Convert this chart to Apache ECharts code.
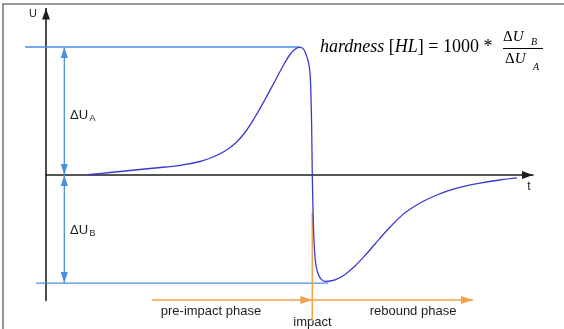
<!DOCTYPE html>
<html><head><meta charset="utf-8">
<script src="https://cdn.jsdelivr.net/npm/echarts@6/dist/echarts.min.js"></script>
<style>html,body{margin:0;padding:0;background:#fff}#c{width:564px;height:329px}</style>
</head><body><div id="c"></div>
<script>
// ---- data (t: time, arbitrary units; U: signal voltage, arbitrary units) ----
const curveT = [0.862, 1.314, 1.725, 2.238, 2.752, 3.162, 3.429, 3.676, 3.881, 4.086, 4.292, 4.497, 4.702, 4.867, 5.010, 5.113, 5.195, 5.257, 5.318, 5.386, 5.421, 5.441, 5.456, 5.468, 5.483, 5.503, 5.534, 5.575, 5.647, 5.749, 5.934, 6.140, 6.345, 6.550, 6.756, 6.961, 7.166, 7.372, 7.680, 7.988, 8.296, 8.604, 8.912, 9.322, 9.671];
const curveU = [0.02, 0.195, 0.352, 0.547, 0.758, 1.055, 1.406, 1.875, 2.461, 3.32, 4.531, 5.898, 7.344, 8.516, 9.414, 9.82, 9.977, 9.94, 9.63, 8.85, 7.97, 6.12, 3.52, 0, -2.73, -5.08, -6.80, -7.58, -8.13, -8.32, -8.20, -7.77, -7.11, -6.29, -5.39, -4.49, -3.67, -2.95, -2.19, -1.62, -1.18, -0.86, -0.63, -0.39, -0.23];

const axisT = [0, 10];          // time axis range
const axisU = [-9.8, 13];       // voltage axis range
const peakLevel = 10.0;         // U at the peak (top reference line)
const troughLevel = -8.44;      // U at the rebound minimum (bottom reference line)
const peakLineT = [-0.431, 5.216];
const troughLineT = [-0.205, 5.791];
const deltaArrowT = 0.376;      // where the ΔU arrows stand
const impactT = 5.468;          // time of impact
const impactLineU = [-2.97, -11.41];
const phaseArrowU = -9.77;
const preImpactStartT = 2.177;
const reboundEndT = 8.768;

// ---- styles ----
const BLUE = '#4a8fe0', ORANGE = '#f5a04c', CURVE = '#3a3ad2', INK = '#1e1e1e';
const arrowPath = 'path://M0,-11M0,0L4,11L-4,11Z';

// segments: [t1,u1,t2,u2,kind(0 blue,1 orange),arrowAtStart,arrowAtEnd]
const segments = [
  [peakLineT[0], peakLevel, peakLineT[1], peakLevel, 0, 0, 0],
  [troughLineT[0], troughLevel, troughLineT[1], troughLevel, 0, 0, 0],
  [deltaArrowT, 0, deltaArrowT, peakLevel, 0, 1, 1],
  [deltaArrowT, 0, deltaArrowT, troughLevel, 0, 1, 1],
  [impactT, impactLineU[0], impactT, impactLineU[1], 1, 0, 0],
  [preImpactStartT, phaseArrowU, impactT, phaseArrowU, 1, 0, 1],
  [impactT, phaseArrowU, reboundEndT, phaseArrowU, 1, 0, 1]
];

const chart = echarts.init(document.getElementById('c'), null, {renderer: 'canvas'});

function renderSeg(params, api) {
  const p1 = api.coord([api.value(0), api.value(1)]);
  const p2 = api.coord([api.value(2), api.value(3)]);
  const kind = api.value(4);
  const color = kind === 0 ? BLUE : ORANGE;
  const L = kind === 0 ? 11 : 12, W = kind === 0 ? 7 : 8;
  const children = [{type: 'line', shape: {x1: p1[0], y1: p1[1], x2: p2[0], y2: p2[1]},
    style: {stroke: color, lineWidth: kind === 0 ? 1.3 : 1.6}}];
  function head(tip, from) {
    const dx = tip[0] - from[0], dy = tip[1] - from[1];
    const len = Math.hypot(dx, dy) || 1;
    const ux = dx / len, uy = dy / len;
    const bx = tip[0] - ux * L, by = tip[1] - uy * L;
    return {type: 'polygon', shape: {points: [[tip[0], tip[1]], [bx - uy * W / 2, by + ux * W / 2], [bx + uy * W / 2, by - ux * W / 2]]},
      style: {fill: color}};
  }
  if (api.value(5)) children.push(head(p1, p2));
  if (api.value(6)) children.push(head(p2, p1));
  return {type: 'group', children};
}

const sans = 'Liberation Sans';
const serif = 'Liberation Serif';

chart.setOption({
  animation: false,
  backgroundColor: '#fff',
  grid: {left: 46, right: 31, top: 8.6, bottom: 28.56, containLabel: false},
  xAxis: {type: 'value', min: axisT[0], max: axisT[1],
    axisLine: {show: true, onZero: true, symbol: ['none', arrowPath], symbolSize: [8, 22], lineStyle: {color: INK, width: 1.6}},
    axisTick: {show: false}, axisLabel: {show: false}, splitLine: {show: false}},
  yAxis: {type: 'value', min: axisU[0], max: axisU[1],
    axisLine: {show: true, onZero: true, symbol: ['none', arrowPath], symbolSize: [8, 22], lineStyle: {color: INK, width: 1.6}},
    axisTick: {show: false}, axisLabel: {show: false}, splitLine: {show: false}},
  series: [
    {type: 'custom', renderItem: renderSeg, data: segments, clip: false, silent: true, z: 2,
      encode: {x: [0, 2], y: [1, 3]}},
    {type: 'line', data: curveT.map((t, i) => [t, curveU[i]]), showSymbol: false, smooth: 0.35,
      clip: false, silent: true, z: 5, lineStyle: {color: CURVE, width: 1.3}}
  ],
  graphic: [
    {type: 'rect', shape: {x: 3, y: 4, width: 700, height: 500}, style: {fill: 'none', stroke: '#7a7a7a', lineWidth: 1.6}},
    {type: 'text', x: 33, y: 14, style: {text: 'U', font: '11px "' + sans + '"', fill: INK, align: 'center', verticalAlign: 'middle'}},
    {type: 'text', x: 529, y: 187, style: {text: 't', font: '12px "' + sans + '"', fill: INK, align: 'center', verticalAlign: 'middle'}},
    {type: 'text', x: 70, y: 115.5, style: {text: 'ΔU', font: '13px "' + sans + '"', fill: INK, align: 'left', verticalAlign: 'middle'}},
    {type: 'text', x: 89.5, y: 119, style: {text: 'A', font: '9px "' + sans + '"', fill: INK, align: 'left', verticalAlign: 'middle'}},
    {type: 'text', x: 70, y: 230, style: {text: 'ΔU', font: '13px "' + sans + '"', fill: INK, align: 'left', verticalAlign: 'middle'}},
    {type: 'text', x: 89.5, y: 233.5, style: {text: 'B', font: '9px "' + sans + '"', fill: INK, align: 'left', verticalAlign: 'middle'}},
    {type: 'text', x: 211, y: 311.5, style: {text: 'pre-impact phase', font: '13px "' + sans + '"', fill: INK, align: 'center', verticalAlign: 'middle'}},
    {type: 'text', x: 413, y: 311.5, style: {text: 'rebound phase', font: '13px "' + sans + '"', fill: INK, align: 'center', verticalAlign: 'middle'}},
    {type: 'text', x: 312.5, y: 322.5, style: {text: 'impact', font: '13px "' + sans + '"', fill: INK, align: 'center', verticalAlign: 'middle'}},
    // formula
    {type: 'text', x: 320, y: 47.5, style: {
      text: '{i|hardness }{r|[}{i|HL}{r|] = 1000 *}', align: 'left', verticalAlign: 'middle', fill: '#000',
      rich: {i: {fontFamily: serif, fontSize: 18, fontStyle: 'italic', fill: '#000'}, r: {fontFamily: serif, fontSize: 18, fill: '#000'}}}},
    {type: 'text', x: 503, y: 36.7, style: {
      text: '{r|Δ}{i|U}', align: 'left', verticalAlign: 'middle',
      rich: {i: {fontFamily: serif, fontSize: 15, fontStyle: 'italic', fill: '#000'}, r: {fontFamily: serif, fontSize: 15, fill: '#000'}}}},
    {type: 'text', x: 531, y: 42.5, style: {text: 'B', font: 'italic 10px "' + serif + '"', fill: '#000', align: 'left', verticalAlign: 'middle'}},
    {type: 'line', shape: {x1: 503, y1: 48.5, x2: 543, y2: 48.5}, style: {stroke: '#000', lineWidth: 1}},
    {type: 'text', x: 505, y: 59.5, style: {
      text: '{r|Δ}{i|U}', align: 'left', verticalAlign: 'middle',
      rich: {i: {fontFamily: serif, fontSize: 15, fontStyle: 'italic', fill: '#000'}, r: {fontFamily: serif, fontSize: 15, fill: '#000'}}}},
    {type: 'text', x: 533, y: 67.5, style: {text: 'A', font: 'italic 10px "' + serif + '"', fill: '#000', align: 'left', verticalAlign: 'middle'}}
  ]
});
</script>
</body></html>
